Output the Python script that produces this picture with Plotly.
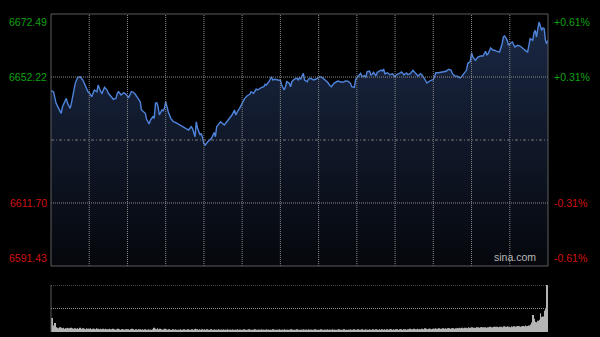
import plotly.graph_objects as go

# ---- data (minutes after open, index level) ----
minutes = [0, 2, 4, 7, 8, 9, 11, 12, 13, 14, 15, 16, 18, 19, 21, 23, 25, 27, 29, 30,
           32, 33, 34, 36, 37, 39, 40, 42, 44, 45, 46, 48, 49, 51, 52, 53, 55, 57, 58, 60,
           61, 63, 64, 66, 68, 70, 71, 74, 75, 77, 78, 80, 81, 82, 83, 84, 85, 87, 88, 89,
           90, 92, 94, 96, 98, 101, 104, 105, 108, 110, 111, 113, 114, 115, 117, 118, 120, 121, 123, 126,
           128, 129, 130, 133, 134, 136, 138, 140, 142, 144, 145, 147, 148, 150, 152, 154, 156, 157, 159, 161,
           162, 165, 167, 168, 169, 171, 173, 174, 176, 178, 180, 181, 183, 184, 185, 187, 188, 189, 191, 193,
           194, 195, 196, 198, 199, 201, 202, 204, 206, 208, 210, 211, 213, 215, 217, 219, 220, 222, 223, 225,
           227, 229, 231, 233, 235, 236, 238, 239, 240, 242, 243, 244, 246, 247, 248, 250, 251, 252, 253, 255,
           256, 257, 259, 260, 261, 262, 264, 266, 268, 270, 271, 273, 275, 277, 279, 280, 282, 284, 286, 288,
           290, 291, 293, 295, 296, 298, 300, 301, 302, 304, 306, 308, 310, 312, 314, 315, 317, 319, 321, 322,
           324, 326, 327, 329, 330, 331, 333, 335, 337, 339, 341, 342, 343, 345, 347, 348, 350, 352, 354, 355,
           356, 358, 359, 360, 362, 363, 364, 366, 368, 370, 371, 373, 374, 375, 376, 378, 379, 380, 381, 382,
           383, 384, 385, 386, 387, 388, 389, 390]

prices = [6647.81, 6647.49, 6643.76, 6641.61, 6640.54, 6642.67, 6644.28, 6645.37, 6643.76, 6642.67,
          6642.15, 6643.76, 6647.49, 6650.19, 6652.13, 6652.32, 6651.26, 6649.10, 6647.49, 6647.17,
          6645.88, 6646.98, 6648.04, 6647.49, 6649.65, 6647.49, 6646.98, 6648.91, 6648.04, 6646.98,
          6646.43, 6645.69, 6645.05, 6645.37, 6646.98, 6647.49, 6646.43, 6647.17, 6646.98, 6646.11,
          6645.69, 6647.49, 6647.45, 6646.75, 6645.69, 6644.28, 6641.61, 6640.54, 6638.61, 6637.10,
          6638.39, 6639.45, 6638.94, 6643.76, 6643.95, 6642.67, 6640.00, 6641.61, 6641.38, 6642.15,
          6644.28, 6641.06, 6638.94, 6637.84, 6637.52, 6636.78, 6636.23, 6635.72, 6635.17, 6636.23,
          6635.72, 6633.02, 6637.84, 6635.72, 6633.56, 6634.11, 6630.89, 6630.35, 6631.41, 6632.50,
          6634.40, 6633.02, 6636.24, 6637.84, 6637.52, 6636.78, 6637.84, 6638.94, 6640.00, 6641.61,
          6640.00, 6641.61, 6642.15, 6643.76, 6645.37, 6646.21, 6646.66, 6647.49, 6646.98, 6648.36,
          6648.04, 6648.78, 6649.10, 6649.87, 6649.65, 6650.71, 6652.32, 6651.26, 6651.48, 6651.26,
          6651.20, 6649.65, 6648.04, 6649.10, 6650.71, 6650.19, 6649.10, 6650.71, 6651.58, 6651.80,
          6651.26, 6652.00, 6651.58, 6653.41, 6651.26, 6650.71, 6651.58, 6651.80, 6651.26, 6651.58,
          6652.00, 6652.32, 6652.00, 6651.26, 6650.52, 6649.42, 6649.10, 6650.19, 6650.52, 6650.93,
          6650.71, 6650.52, 6650.93, 6650.90, 6650.19, 6649.10, 6648.91, 6651.26, 6652.00, 6652.86,
          6653.41, 6652.32, 6652.64, 6652.00, 6653.93, 6654.15, 6652.86, 6653.09, 6653.73, 6652.64,
          6653.73, 6653.93, 6654.47, 6654.15, 6654.79, 6653.28, 6653.60, 6652.96, 6653.28, 6652.22,
          6652.96, 6653.28, 6653.83, 6652.96, 6653.51, 6652.96, 6653.28, 6654.38, 6653.28, 6652.54,
          6653.28, 6652.96, 6651.67, 6650.29, 6650.61, 6651.16, 6651.35, 6652.22, 6653.60, 6653.60,
          6653.83, 6653.83, 6654.06, 6654.70, 6654.38, 6653.28, 6652.54, 6652.45, 6651.90, 6652.22,
          6653.28, 6654.38, 6656.50, 6657.27, 6660.04, 6658.65, 6657.59, 6658.65, 6658.98, 6658.98,
          6660.49, 6659.39, 6659.72, 6661.55, 6660.81, 6660.81, 6660.49, 6660.26, 6662.93, 6665.09,
          6665.41, 6664.03, 6662.42, 6662.93, 6663.48, 6662.61, 6661.87, 6662.42, 6662.19, 6661.55,
          6661.13, 6660.49, 6660.26, 6662.42, 6664.54, 6664.03, 6666.47, 6667.24, 6665.09, 6667.76,
          6669.91, 6668.63, 6667.24, 6667.98, 6667.76, 6664.03, 6662.93, 6664.03]

# relative per-minute volume (last minute = closing auction)
volume = [30, 14, 19, 10, 9, 8, 10, 9, 8, 9, 7, 8, 9, 8, 7, 9, 8, 7, 8, 7,
          8, 7, 9, 7, 8, 7, 6, 8, 7, 7, 8, 6, 7, 7, 6, 8, 7, 6, 7, 6,
          7, 6, 7, 6, 6, 7, 6, 6, 7, 6, 5, 6, 7, 6, 5, 6, 6, 5, 6, 6,
          6, 5, 6, 7, 6, 5, 6, 5, 6, 6, 5, 6, 5, 6, 5, 5, 6, 5, 5, 6,
          9, 7, 6, 8, 6, 7, 6, 5, 6, 7, 6, 5, 6, 5, 5, 6, 5, 6, 5, 5,
          5, 6, 5, 5, 6, 5, 5, 6, 5, 5, 6, 5, 6, 7, 6, 5, 6, 5, 6, 5,
          6, 5, 6, 5, 5, 6, 5, 5, 6, 5, 5, 6, 5, 5, 5, 6, 5, 5, 6, 5,
          5, 5, 6, 5, 5, 5, 6, 5, 5, 5, 5, 6, 5, 5, 5, 6, 5, 5, 5, 5,
          6, 5, 5, 5, 5, 6, 5, 5, 5, 6, 5, 5, 5, 5, 6, 5, 5, 5, 5, 6,
          5, 5, 5, 6, 5, 5, 5, 5, 6, 5, 5, 5, 5, 6, 5, 5, 5, 5, 6, 5,
          5, 5, 6, 5, 5, 5, 5, 6, 5, 5, 5, 5, 6, 5, 5, 5, 5, 6, 5, 5,
          5, 6, 5, 5, 5, 5, 6, 5, 5, 5, 6, 5, 5, 5, 5, 6, 5, 5, 6, 5,
          5, 6, 5, 5, 6, 5, 5, 6, 5, 5, 6, 5, 5, 6, 5, 6, 5, 5, 6, 5,
          6, 5, 6, 5, 6, 5, 6, 6, 5, 6, 5, 6, 6, 5, 6, 6, 5, 6, 6, 5,
          6, 6, 7, 6, 6, 7, 6, 6, 7, 6, 6, 7, 7, 6, 8, 7, 6, 7, 7, 6,
          7, 7, 8, 7, 7, 8, 7, 7, 8, 7, 8, 7, 8, 8, 7, 8, 8, 7, 8, 8,
          8, 9, 8, 9, 8, 9, 9, 8, 10, 9, 9, 10, 9, 9, 9, 10, 10, 9, 10, 10,
          10, 10, 9, 10, 10, 11, 10, 10, 11, 10, 11, 11, 10, 11, 11, 10, 12, 11, 11, 12,
          11, 10, 12, 11, 12, 11, 12, 13, 12, 11, 12, 13, 12, 14, 12, 13, 14, 16, 20, 36,
          28, 22, 21, 24, 26, 40, 32, 33, 45, 51,
          100]

y_min, y_max = 6591.43, 6672.49
prev_close = 6631.96
grid_levels = [6652.22, 6611.70]
left_labels = ["6672.49", "6652.22", "6611.70", "6591.43"]
right_labels = ["+0.61%", "+0.31%", "-0.31%", "-0.61%"]
vgrid_minutes = [30, 60, 90, 120, 150, 180, 210, 240, 270, 300, 330, 360]

W, H = 600, 337
X0, X1 = 51, 548
MT, MB = 14, 266
VT, VB = 285, 332


def px(x):
    return x / W


def py(y):
    return 1 - y / H


fig = go.Figure()

fig.add_trace(go.Scatter(
    x=minutes, y=prices, mode="lines",
    line=dict(color="#4f84dc", width=1.4),
    fill="tozeroy",
    fillgradient=dict(type="vertical",
                      colorscale=[[0, "#05070c"], [1, "#1b2946"]],
                      start=y_min, stop=y_max),
    xaxis="x", yaxis="y", hoverinfo="skip",
))

fig.add_trace(go.Bar(
    x=list(range(len(volume))), y=volume,
    marker=dict(color="#b4b4b4", line=dict(width=0)),
    xaxis="x2", yaxis="y2", hoverinfo="skip",
))

shapes = []
grid_line = dict(color="#8a8a8a", width=1, dash="1px,1px")
for m in vgrid_minutes:
    shapes.append(dict(type="line", xref="x", yref="y", x0=m, x1=m, y0=y_min, y1=y_max,
                       line=grid_line, layer="above"))
for g in grid_levels:
    shapes.append(dict(type="line", xref="x", yref="y", x0=0, x1=390, y0=g, y1=g,
                       line=grid_line, layer="above"))
shapes.append(dict(type="line", xref="x", yref="y", x0=0, x1=390, y0=prev_close, y1=prev_close,
                   line=dict(color="#7a7a7a", width=1, dash="3px,2px,1px,2px"), layer="above"))
# main panel border
shapes.append(dict(type="rect", xref="paper", yref="paper",
                   x0=px(X0), x1=px(X1), y0=py(MB), y1=py(MT),
                   line=dict(color="#5c5c5c", width=1), layer="above"))
# volume panel lines
shapes.append(dict(type="line", xref="paper", yref="paper",
                   x0=px(X0), x1=px(X0), y0=py(VB), y1=py(VT),
                   line=dict(color="#5c5c5c", width=1)))
shapes.append(dict(type="line", xref="paper", yref="y2", x0=px(X0), x1=px(X1), y0=100, y1=100,
                   line=grid_line))
shapes.append(dict(type="line", xref="paper", yref="y2", x0=px(X0), x1=px(X1), y0=50, y1=50,
                   line=grid_line))

green, red = "#12a012", "#d01010"
label_font = dict(family="Liberation Sans, Arial, sans-serif", size=10.5)
label_y = [(MT, "top"), (None, "middle"), (None, "middle"), (MB, "bottom")]
label_vals = [y_max, grid_levels[0], grid_levels[1], y_min]
annotations = []
for i in range(4):
    col = green if i < 2 else red
    pix, anc = label_y[i]
    if pix is None:
        yref, yv = "y", label_vals[i]
    else:
        yref, yv = "paper", py(pix)
    annotations.append(dict(text=left_labels[i], xref="paper", yref=yref, x=px(49), y=yv,
                            xanchor="right", yanchor=anc, showarrow=False,
                            font=dict(color=col, **label_font)))
    annotations.append(dict(text=right_labels[i], xref="paper", yref=yref, x=px(552), y=yv,
                            xanchor="left", yanchor=anc, showarrow=False,
                            font=dict(color=col, **label_font)))
annotations.append(dict(text="sina.com", xref="paper", yref="paper", x=px(538), y=py(MB - 1),
                        xanchor="right", yanchor="bottom", showarrow=False,
                        font=dict(color="#b8b8b8", family="Liberation Sans, Arial, sans-serif", size=10.5)))

fig.update_layout(
    width=W, height=H,
    margin=dict(l=0, r=0, t=0, b=0),
    paper_bgcolor="black", plot_bgcolor="black",
    showlegend=False, bargap=0.5,
    xaxis=dict(domain=[px(X0), px(X1)], range=[0, 390], visible=False, fixedrange=True),
    yaxis=dict(domain=[py(MB), py(MT)], range=[y_min, y_max], visible=False, fixedrange=True),
    xaxis2=dict(domain=[px(X0), px(X1)], range=[-1, 390.8], visible=False, anchor="y2"),
    yaxis2=dict(domain=[py(VB), py(VT)], range=[0, 100], visible=False, anchor="x2"),
    shapes=shapes, annotations=annotations,
)

fig.write_html("out.html", config={"displayModeBar": False})
